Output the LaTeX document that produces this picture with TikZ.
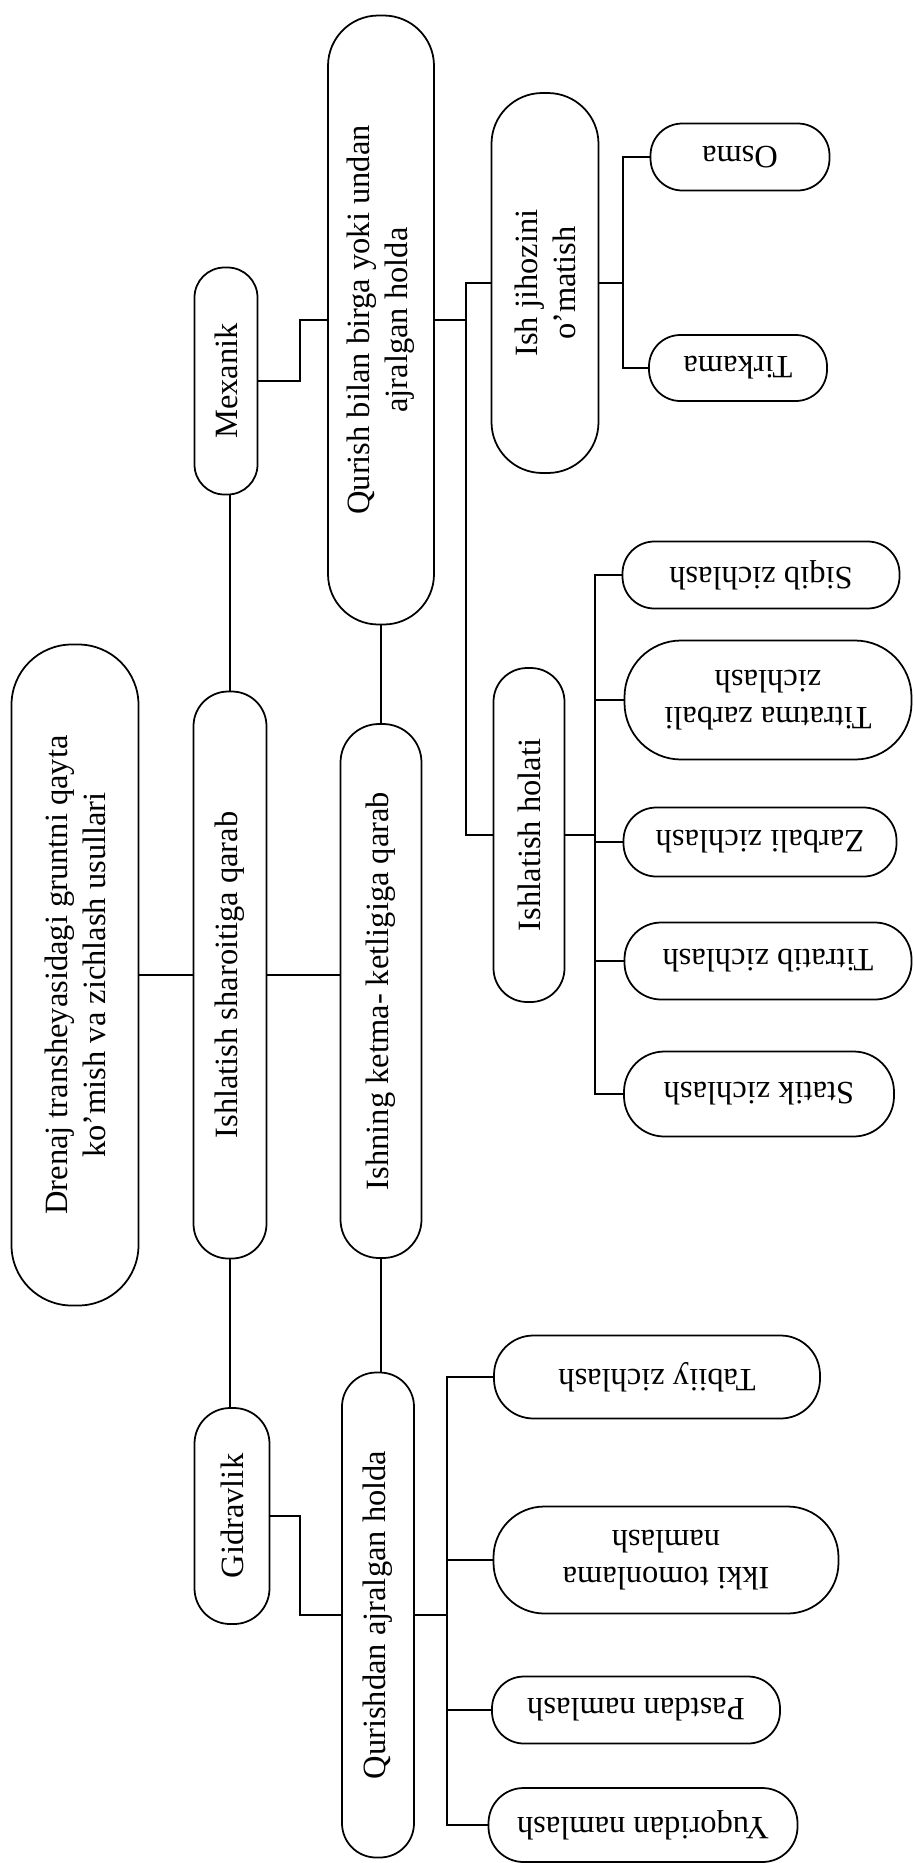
\documentclass[tikz,border=0pt]{standalone}
\usepackage{fontspec}
\setmainfont{Liberation Serif}
\usepackage{tikz}
\usetikzlibrary{positioning}

\begin{document}
\begin{tikzpicture}[x=0.02cm, y=-0.02cm, line width=1pt,
  every node/.style={font=\fontsize{18.5}{21.5}\selectfont, align=center, inner sep=0pt},
  main node/.style 2 args={draw, rotate=90, minimum width=#1*0.02cm,
    minimum height=#2*0.02cm, rounded corners=#2*0.0095cm},
  leaf node/.style 2 args={draw, rotate=180, minimum width=#1*0.02cm,
    minimum height=#2*0.02cm, rounded corners=#2*0.0095cm}]

\useasboundingbox (0,0) rectangle (913,1863);

% main column
\node[main node={661}{127}] (root) at (75,975) {Drenaj transheyasidagi gruntni qayta\\ko'mish va zichlash usullari};
\node[main node={567}{73}] (is) at (230,975) {Ishlatish sharoitiga qarab};
\node[main node={227}{63}] (mex) at (226,381) {Mexanik};
\node[main node={216}{75}] (gid) at (232,1516) {Gidravlik};
\node[main node={609}{106}] (qb) at (381,320) {Qurish bilan birga yoki undan\\ajralgan holda};
\node[main node={534}{81}] (ik) at (381,991) {Ishning ketma- ketligiga qarab};
\node[main node={485}{72}] (qa) at (378,1615) {Qurishdan ajralgan holda};
\node[main node={380}{107}] (ij) at (545,283) {Ish jihozini\\o'matish};
\node[main node={334}{71}] (ih) at (529,835) {Ishlatish holati};

% leaves
\node[leaf node={179}{67}] (osma) at (740,157) {Osma};
\node[leaf node={178}{66}] (tirk) at (738,368) {Tirkama};
\node[leaf node={277}{67}] (siqib) at (761,575) {Siqib zichlash};
\node[leaf node={287}{119}] (titma) at (768,700) {Titratma zarbali\\zichlash};
\node[leaf node={273}{69}] (zarb) at (760,842) {Zarbali zichlash};
\node[leaf node={287}{77}] (titb) at (768,961) {Titratib zichlash};
\node[leaf node={270}{85}] (statik) at (759,1094) {Statik zichlash};
\node[leaf node={326}{83}] (tabiiy) at (657,1377) {Tabiiy zichlash};
\node[leaf node={345}{107}] (ikki) at (666,1560) {Ikki tomonlama\\namlash};
\node[leaf node={288}{67}] (past) at (636,1710) {Pastdan namlash};
\node[leaf node={309}{74}] (yuq) at (643,1825) {Yuqoridan namlash};

% bus lines
\coordinate (b1) at (623,0);
\coordinate (b2) at (595,0);
\coordinate (b3) at (447,0);
\coordinate (b4) at (466,0);
\coordinate (b5) at (300,0);

\draw (root) -- (is);
\draw (is.south) -- (is.south -| ik.north);
\draw (is.east) -- (is.east |- mex.west);
\draw (is.west) -- (is.west |- gid.east);
\draw (ik.east) -- (ik.east |- qb.west);
\draw (ik.west) -- (ik.west |- qa.east);
\draw (mex.south) -- (mex.south -| b5) |- (qb.north);
\draw (gid.south) -- (gid.south -| b5) |- (qa.north);
\draw (qb.south) -- (qb.south -| b4);
\draw (ij.north) -- (ij.north -| b4) |- (ih.north);
\draw (ij.south) -- (ij.south -| b1);
\draw (osma.east) -- (osma.east -| b1) |- (tirk.east);
\draw (ih.south) -- (ih.south -| b2);
\draw (siqib.east) -- (siqib.east -| b2) |- (statik.east);
\foreach \n in {titma, zarb, titb} \draw (\n.east) -- (\n.east -| b2);
\draw (qa.south) -- (qa.south -| b3);
\draw (tabiiy.east) -- (tabiiy.east -| b3) |- (yuq.east);
\foreach \n in {ikki, past} \draw (\n.east) -- (\n.east -| b3);

\end{tikzpicture}
\end{document}
